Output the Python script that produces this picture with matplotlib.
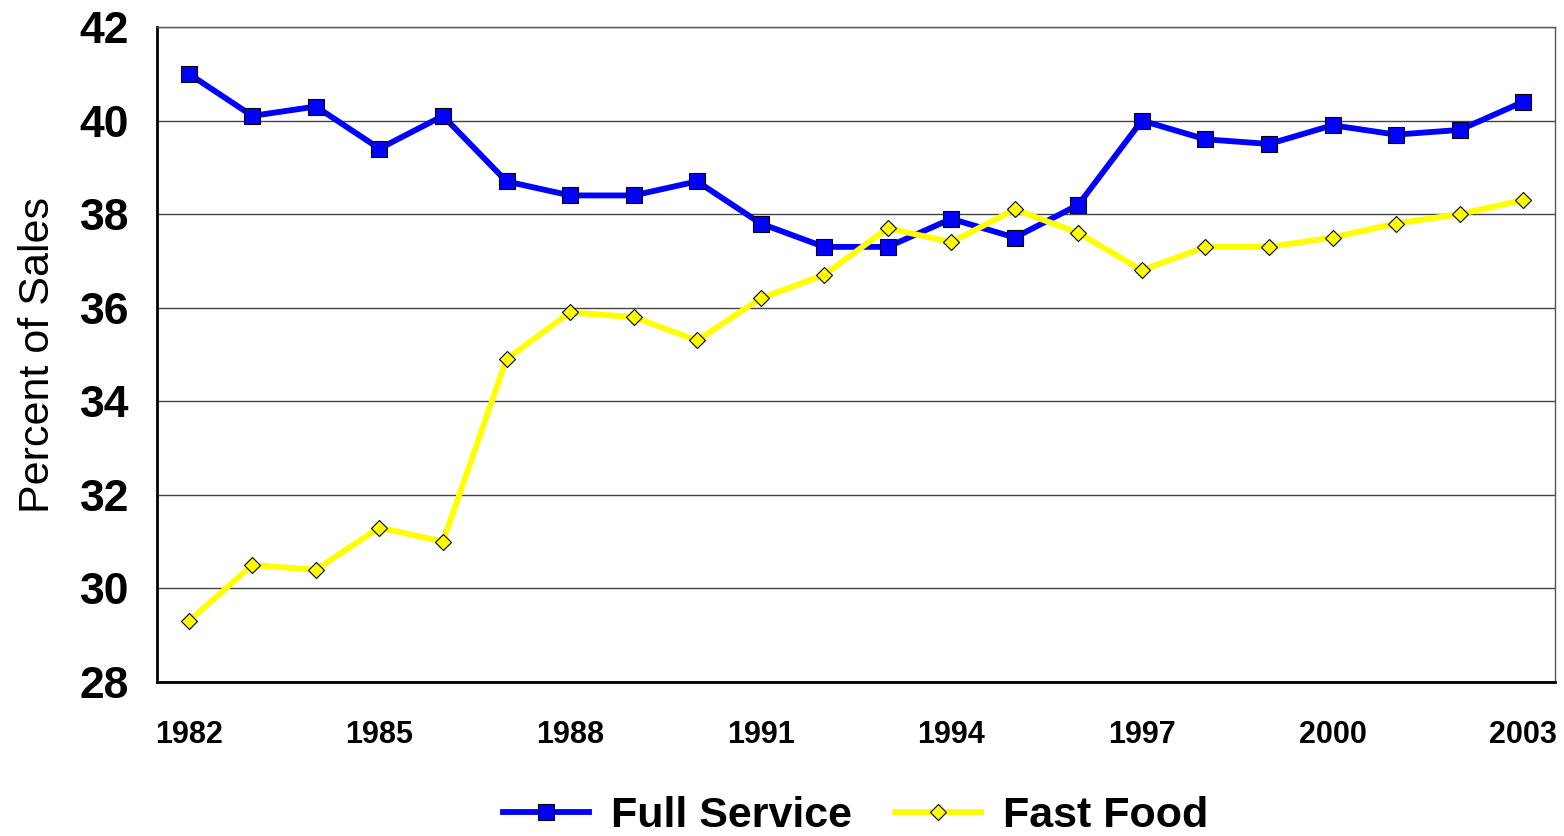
import matplotlib
matplotlib.use("Agg")
import matplotlib.pyplot as plt

years = list(range(1982, 2004))
full_service = [41.0, 40.1, 40.3, 39.4, 40.1, 38.7, 38.4, 38.4, 38.7, 37.8, 37.3,
                37.3, 37.9, 37.5, 38.2, 40.0, 39.6, 39.5, 39.9, 39.7, 39.8, 40.4]
fast_food = [29.3, 30.5, 30.4, 31.3, 31.0, 34.9, 35.9, 35.8, 35.3, 36.2, 36.7,
             37.7, 37.4, 38.1, 37.6, 36.8, 37.3, 37.3, 37.5, 37.8, 38.0, 38.3]
xtick_years = [1982, 1985, 1988, 1991, 1994, 1997, 2000, 2003]
yticks = [28, 30, 32, 34, 36, 38, 40, 42]

plt.rcParams['font.family'] = ['Liberation Sans', 'DejaVu Sans']

fig = plt.figure(figsize=(15.64, 8.36), dpi=100)
ax = fig.add_axes([0.1004, 0.1842, 0.8938, 0.7835])

ax.plot(years, full_service, color='#0000ff', lw=4.2, marker='s', ms=12,
        mec='black', mew=0.8, mfc='#0000ff', label='Full Service', zorder=3)
ax.plot(years, fast_food, color='#ffff00', lw=4.2, marker='D', ms=8.5,
        mec='black', mew=0.8, mfc='#ffff00', label='Fast Food', zorder=4)

ax.set_xlim(1981.5, 2003.5)
ax.set_ylim(28, 42)
ax.set_yticks(yticks)
ax.set_yticklabels([str(v) for v in yticks], fontsize=32, fontweight='bold')
ax.set_xticks(xtick_years)
ax.set_xticklabels([str(v) for v in xtick_years], fontsize=22, fontweight='bold')
ax.tick_params(axis='y', length=0, pad=20)
ax.tick_params(axis='x', length=0, pad=27)
ax.yaxis.grid(True, color='#444444', lw=1)
ax.set_axisbelow(True)

ax.set_ylabel('Percent of Sales', fontsize=31, labelpad=16)

for side in ['left', 'bottom']:
    ax.spines[side].set_color('black')
    ax.spines[side].set_linewidth(2)
for side in ['top', 'right']:
    ax.spines[side].set_color('#555555')
    ax.spines[side].set_linewidth(1)

fig.legend(loc='center', bbox_to_anchor=(0.547, 0.024), ncol=2, frameon=False,
           prop={'size': 31, 'weight': 'bold'}, handlelength=2.0,
           columnspacing=1.0, handletextpad=0.5)

fig.savefig('out.png', dpi=100)
